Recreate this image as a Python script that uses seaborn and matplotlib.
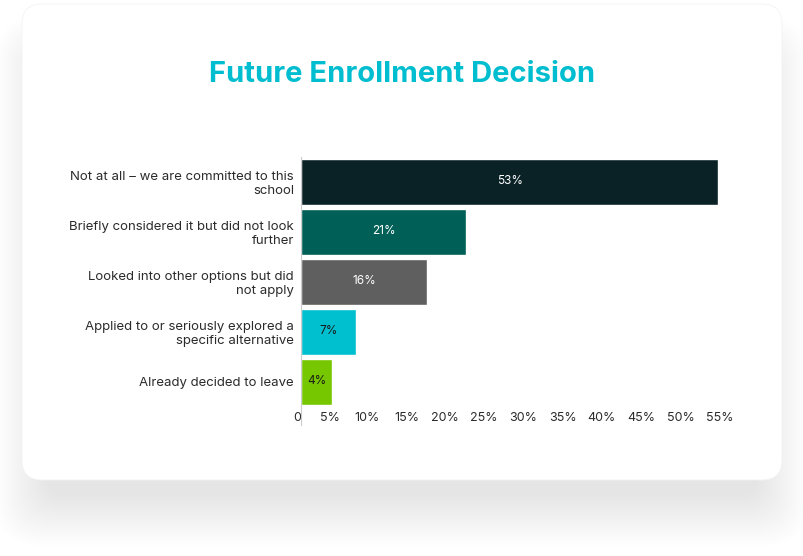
import matplotlib
matplotlib.use("Agg")
import matplotlib.pyplot as plt
import seaborn as sns
import pandas as pd
from matplotlib.patches import FancyBboxPatch

# data
categories = [
    "Not at all \u2013 we are committed to this school",
    "Briefly considered it but did not look further",
    "Looked into other options but did not apply",
    "Applied to or seriously explored a specific alternative",
    "Already decided to leave",
]
tick_labels = [
    "Not at all \u2013 we are committed to this\nschool",
    "Briefly considered it but did not look\nfurther",
    "Looked into other options but did\nnot apply",
    "Applied to or seriously explored a\nspecific alternative",
    "Already decided to leave",
]
values = [53, 21, 16, 7, 4]
bar_colors = ["#0a2226", "#005f56", "#5f5f5f", "#00bfcf", "#77c700"]
label_colors = ["white", "white", "white", "#1a1a1a", "#1a1a1a"]
x_ticks = list(range(0, 60, 5))

df = pd.DataFrame({"answer": categories, "share": values})

sns.set_theme(style="white")
plt.rcParams["font.family"] = ["Inter", "DejaVu Sans"]

W, H = 804, 556
fig = plt.figure(figsize=(W / 100, H / 100), dpi=100)
fig.patch.set_facecolor("white")

# soft shadow under the card, built from many faint layers
for k in range(26):
    sh = FancyBboxPatch((22 + 24 - k * 2, H - 480 - 16 - k * 2), 760 - 48 + k * 4, 430 + k * 4,
                        boxstyle="round,pad=0,rounding_size=%d" % (20 + k),
                        transform=None, facecolor="#000000", edgecolor="none",
                        alpha=0.0032, zorder=0)
    fig.patches.append(sh)

# white card
card = FancyBboxPatch((22, H - 480), 760, 476, boxstyle="round,pad=0,rounding_size=20",
                      transform=None, facecolor="white", edgecolor="#f3f3f3", lw=0.6, zorder=1)
fig.patches.append(card)

fig.text(0.5, 1 - 74 / H, "Future Enrollment Decision", ha="center", va="center",
         fontsize=21, fontweight="bold", color="#00bdd0", zorder=3)

left, right, top, bottom = 301, 734, 156.5, 425
ax = fig.add_axes([left / W, 1 - bottom / H, (right - left) / W, (bottom - top) / H])
ax.set_facecolor("none")
ax.set_zorder(2)

sns.barplot(data=df, x="share", y="answer", hue="answer", palette=bar_colors,
            width=0.92, legend=False, ax=ax, saturation=1)

for cont, v, c in zip(ax.containers, values, label_colors):
    ax.bar_label(cont, labels=[f"{v}%"], label_type="center", color=c, fontsize=8.5)

ax.set_xlim(0, 55)
ax.set_ylim(4.5 + 18.5 / 50, -0.5)
ax.set_xticks(x_ticks)
ax.set_xticklabels(["0"] + [f"{t}%" for t in x_ticks[1:]])
for lbl in ax.get_xticklabels():
    lbl.set_ha("right")
ax.set_yticks(range(len(tick_labels)))
ax.set_yticklabels(tick_labels)
ax.tick_params(axis="x", length=0, pad=-9.5, labelsize=9, labelcolor="#2b2b2b")
ax.tick_params(axis="y", length=0, pad=5, labelsize=9.5, labelcolor="#2b2b2b")
ax.set_xlabel("")
ax.set_ylabel("")

for s in ["top", "right", "bottom"]:
    ax.spines[s].set_visible(False)
ax.spines["left"].set_color("#cccccc")
ax.spines["left"].set_linewidth(0.8)

fig.savefig("out.png", dpi=100, facecolor="white")
